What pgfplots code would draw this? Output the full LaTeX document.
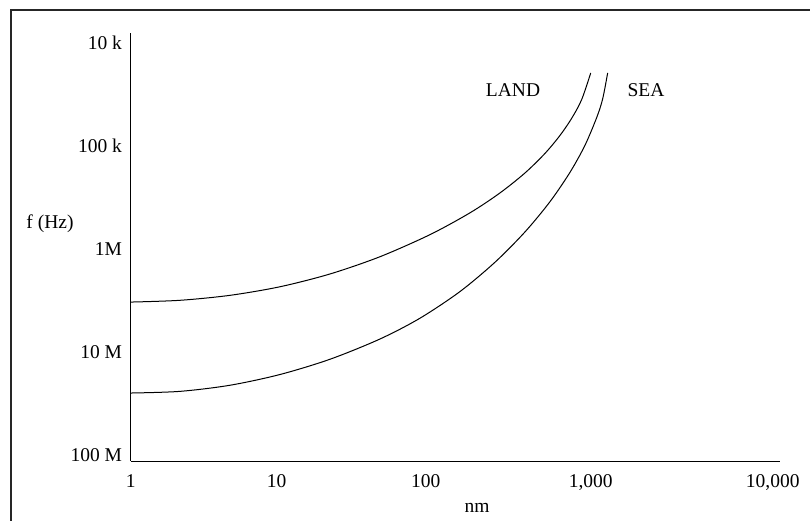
\documentclass[border=0pt]{standalone}
\usepackage{fontspec}
\setmainfont{Liberation Serif}
\usepackage{pgfplots}
\pgfplotsset{compat=1.18}
\begin{document}
\fontsize{19.5}{23}\selectfont
\begin{tikzpicture}
\useasboundingbox (0,0) rectangle (810pt,520pt);
\draw[line width=1.2pt, black!85] (11pt,-2pt) -- (11pt,510pt) -- (812pt,510pt);
\begin{axis}[
  at={(130.7pt,59pt)}, anchor=south west,
  scale only axis, width=649.3pt, height=428pt,
  axis x line=bottom, axis y line=left,
  axis line style={-, line width=1pt, black},
  x coord trafo/.code={\pgfmathparse{#1<1 ? 146*#1 : (#1<2 ? 146+149*(#1-1) : (#1<3 ? 295+165*(#1-2) : 460+182*(#1-3)))}},
  xmin=0, xmax=4.04,
  ymin=3.903, ymax=8.058, y dir=reverse,
  xtick={0,1,2,3,4},
  xticklabels={1,10,100,{1,000},{10,000}},
  ytick={4,5,6,7,8},
  yticklabels={10 k\hspace{5pt},100 k\hspace{5pt},1M\hspace{5pt},10 M,100 M},
  major tick length=0pt, tick style={draw=none},
  xticklabel style={yshift=-7pt},
  yticklabel style={xshift=-2pt},
  xlabel={nm}, ylabel={f (Hz)},
  xlabel style={at={(axis description cs:0.5333,-0.1098)}, anchor=center},
  ylabel style={at={(axis description cs:-0.1243,0.5537)}, rotate=-90, anchor=center},
  clip=false,
]
% LAND: x = log10(nm), y = log10(f/Hz)
\addplot[black, line width=1pt, smooth] coordinates {
 (0,6.515) (0.336,6.498) (0.678,6.450) (1.020,6.367) (1.356,6.243)
 (1.691,6.076) (2.024,5.862) (2.267,5.650) (2.448,5.458) (2.600,5.264)
 (2.721,5.075) (2.812,4.901) (2.885,4.730) (2.945,4.550) (3.000,4.291)
};
% SEA
\addplot[black, line width=1pt, smooth] coordinates {
 (0,7.398) (0.336,7.382) (0.678,7.323) (1.020,7.219) (1.356,7.071)
 (1.691,6.875) (1.960,6.673) (2.206,6.415) (2.418,6.131) (2.600,5.837)
 (2.752,5.543) (2.873,5.259) (2.964,4.997) (3.033,4.723) (3.066,4.540)
 (3.093,4.291)
};
\node at (axis description cs:0.5888,0.8668) {LAND};
\node at (axis description cs:0.7937,0.8668) {SEA};
\end{axis}
\end{tikzpicture}
\end{document}
